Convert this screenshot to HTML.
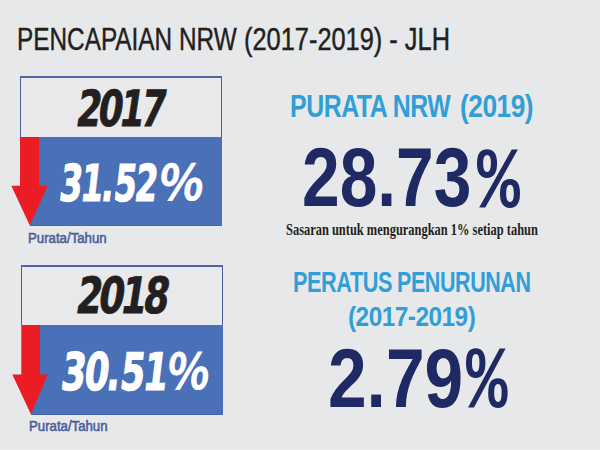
<!DOCTYPE html>
<html><head><meta charset="utf-8"><title>Pencapaian NRW</title>
<style>
html,body{margin:0;padding:0}
body{width:600px;height:450px;overflow:hidden;position:relative;background:#e7e8ea}
.t{position:absolute;white-space:nowrap;line-height:1;transform-origin:0 0;margin:0}
.box{position:absolute;box-sizing:border-box}

</style></head><body>
<div class="box" style="left:20px;top:76px;width:202px;height:61px;border:1px solid #4d5d9a;border-top:2px solid #4f64a6;border-bottom:none;background:#e9e9eb"></div><div class="box" style="left:30px;top:137px;width:192px;height:88.9px;background:#4a70b8;border-bottom:1px solid #4a64a8"></div><svg style="position:absolute;left:0;top:0" width="600" height="450"><polygon fill="#ec1c24" points="20,137 39,137 39,185.7 47.7,185.7 29.8,225.5 11.3,185.7 20,185.7"/></svg><div class="box" style="left:21px;top:264.5px;width:202.3px;height:60.5px;border:1px solid #4d5d9a;border-top:2px solid #4f64a6;border-bottom:none;background:#e9e9eb"></div><div class="box" style="left:31px;top:325px;width:192.3px;height:89.6px;background:#4a70b8;border-bottom:1px solid #4a64a8"></div><svg style="position:absolute;left:0;top:0" width="600" height="450"><polygon fill="#ec1c24" points="21.3,325 40,325 40,374.5 47.7,374.5 30.9,414.3 12.3,374.5 21.3,374.5"/></svg><div class="box" style="left:0;top:449px;width:600px;height:1px;background:#eeeff1"></div><div id="title_a" class="t" style="left:16.69px;top:22.93px;font-size:32.19px;transform:scaleX(0.7568);color:#231f20;font-family:'Liberation Sans', Arial, sans-serif;font-weight:400;font-style:normal;-webkit-text-stroke:0.45px currentColor;">PENCAPAIAN NRW</div><div id="title_b" class="t" style="left:244.20px;top:22.93px;font-size:32.19px;transform:scaleX(0.7890);color:#231f20;font-family:'Liberation Sans', Arial, sans-serif;font-weight:400;font-style:normal;-webkit-text-stroke:0.45px currentColor;"><span class=p>(</span>2017-2019<span class=p>)</span> - JLH</div><div id="y2017" class="t" style="left:80.97px;top:84.74px;font-size:49.82px;transform:scaleX(0.7117) skewX(-12deg);color:#231f20;font-family:'DejaVu Sans', 'Liberation Sans', sans-serif;font-weight:700;font-style:normal;-webkit-text-stroke:0.8px currentColor;letter-spacing:-4.5px;">2017</div><div id="p3152a" class="t" style="left:63.33px;top:158.89px;font-size:50.71px;transform:scaleX(0.6391) skewX(-10deg);color:#ffffff;font-family:'DejaVu Sans', 'Liberation Sans', sans-serif;font-weight:700;font-style:normal;-webkit-text-stroke:1.2px currentColor;letter-spacing:-2.5px;">31<span style="letter-spacing:0">.</span>52</div><div id="p3152b" class="t" style="left:163.44px;top:154.71px;font-size:48.73px;transform:scaleX(0.9532) skewX(-8deg);color:#ffffff;font-family:'Noto Sans CJK SC', 'Liberation Sans', sans-serif;font-weight:700;font-style:normal;-webkit-text-stroke:0.8px currentColor;">%</div><div id="pt1" class="t" style="left:28.20px;top:230.66px;font-size:14.90px;transform:scaleX(0.8882);color:#4c5f99;font-family:'Liberation Sans', Arial, sans-serif;font-weight:400;font-style:normal;-webkit-text-stroke:0.6px currentColor;">Purata<span class=p>/</span>Tahun</div><div id="y2018" class="t" style="left:81.20px;top:271.45px;font-size:50.02px;transform:scaleX(0.7371) skewX(-12deg);color:#231f20;font-family:'DejaVu Sans', 'Liberation Sans', sans-serif;font-weight:700;font-style:normal;-webkit-text-stroke:0.8px currentColor;letter-spacing:-4.5px;">2018</div><div id="p3051a" class="t" style="left:64.86px;top:347.24px;font-size:51.79px;transform:scaleX(0.6801) skewX(-10deg);color:#ffffff;font-family:'DejaVu Sans', 'Liberation Sans', sans-serif;font-weight:700;font-style:normal;-webkit-text-stroke:1.2px currentColor;letter-spacing:-2.5px;">30<span style="letter-spacing:0">.</span>51</div><div id="p3051b" class="t" style="left:170.77px;top:343.48px;font-size:49.11px;transform:scaleX(0.8951) skewX(-8deg);color:#ffffff;font-family:'Noto Sans CJK SC', 'Liberation Sans', sans-serif;font-weight:700;font-style:normal;-webkit-text-stroke:0.8px currentColor;">%</div><div id="pt2" class="t" style="left:28.96px;top:419.09px;font-size:14.88px;transform:scaleX(0.8876);color:#4c5f99;font-family:'Liberation Sans', Arial, sans-serif;font-weight:400;font-style:normal;-webkit-text-stroke:0.6px currentColor;">Purata<span class=p>/</span>Tahun</div><div id="h1a" class="t" style="left:290.11px;top:90.13px;font-size:32.27px;transform:scaleX(0.7713);color:#319fd6;font-family:'Liberation Sans', Arial, sans-serif;font-weight:700;font-style:normal;letter-spacing:-0.6px;">PURATA NRW</div><div id="h1b" class="t" style="left:460.12px;top:90.13px;font-size:32.27px;transform:scaleX(0.8147);color:#319fd6;font-family:'Liberation Sans', Arial, sans-serif;font-weight:700;font-style:normal;letter-spacing:-0.6px;"><span class=p>(</span>2019<span class=p>)</span></div><div id="big1a" class="t" style="left:302.35px;top:135.46px;font-size:84.21px;transform:scaleX(0.8041);color:#1f2a64;font-family:'Liberation Sans', Arial, sans-serif;font-weight:700;font-style:normal;">28.73</div><div id="big1b" class="t" style="left:476.70px;top:139.64px;font-size:87.94px;transform:scaleX(0.8148);color:#1f2a64;font-family:'Liberation Mono', monospace;font-weight:700;font-style:normal;">%</div><div id="sas" class="t" style="left:286.30px;top:222.40px;font-size:16.55px;transform:scaleX(0.7523);color:#231f20;font-family:'Liberation Serif', 'Times New Roman', serif;font-weight:700;font-style:normal;">Sasaran untuk mengurangkan 1% setiap tahun</div><div id="h2a" class="t" style="left:292.77px;top:266.41px;font-size:30.40px;transform:scaleX(0.7137);color:#319fd6;font-family:'Liberation Sans', Arial, sans-serif;font-weight:700;font-style:normal;letter-spacing:-0.6px;">PERATUS</div><div id="h2b" class="t" style="left:397.24px;top:266.41px;font-size:30.40px;transform:scaleX(0.7074);color:#319fd6;font-family:'Liberation Sans', Arial, sans-serif;font-weight:700;font-style:normal;letter-spacing:-0.6px;">PENURUNAN</div><div id="h3" class="t" style="left:348.28px;top:301.92px;font-size:28.46px;transform:scaleX(0.8573);color:#319fd6;font-family:'Liberation Sans', Arial, sans-serif;font-weight:700;font-style:normal;letter-spacing:-0.6px;"><span class=p>(</span>2017-2019<span class=p>)</span></div><div id="big2a" class="t" style="left:327.87px;top:336.04px;font-size:84.16px;transform:scaleX(0.8252);color:#1f2a64;font-family:'Liberation Sans', Arial, sans-serif;font-weight:700;font-style:normal;">2.79</div><div id="big2b" class="t" style="left:465.86px;top:340.33px;font-size:88.06px;transform:scaleX(0.7870);color:#1f2a64;font-family:'Liberation Mono', monospace;font-weight:700;font-style:normal;">%</div></body></html>
